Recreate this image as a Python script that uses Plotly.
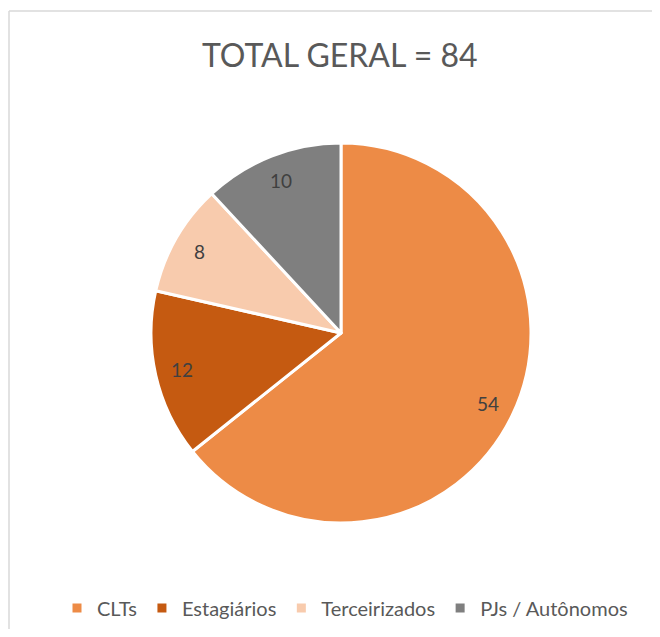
import math
import plotly.graph_objects as go

categories = ["CLTs", "Estagiários", "Terceirizados", "PJs / Autônomos"]
values = [54, 12, 8, 10]
colors = ["#ED8B46", "#C55A11", "#F8CBAD", "#7F7F7F"]
title_text = "TOTAL GERAL = " + str(sum(values))

OFF = 8  # page body margin offset
W, H = 660 - 2 * OFF, 637 - 2 * OFF
cx, cy, R = 341 - OFF, 333 - OFF, 190  # pixel centre / radius of the pie (figure coords)

fig = go.Figure(go.Pie(
    labels=categories,
    values=values,
    marker=dict(colors=colors, line=dict(color="white", width=3)),
    sort=False,
    direction="clockwise",
    rotation=0,
    textinfo="none",
    domain=dict(x=[(cx - R) / W, (cx + R) / W], y=[(H - cy - R) / H, (H - cy + R) / H]),
    showlegend=True,
))

total = sum(values)
cum = 0
annotations = []
for v in values:
    mid = (cum + v / 2) / total * 2 * math.pi
    cum += v
    px = cx + 0.86 * R * math.sin(mid)
    py = cy - 0.86 * R * math.cos(mid)
    annotations.append(dict(
        x=px / W, y=1 - py / H, xref="paper", yref="paper",
        text=str(v), showarrow=False,
        font=dict(family="Lato, 'Open Sans', sans-serif", size=19, color="#404040"),
        xanchor="center", yanchor="middle"))

annotations.append(dict(
    x=(340 - OFF) / W, y=1 - (54 - OFF) / H, xref="paper", yref="paper", text=title_text,
    showarrow=False, xanchor="center", yanchor="middle",
    font=dict(family="Lato, 'Open Sans', sans-serif", size=32, color="#595959")))

border = dict(color="#D9D9D9", width=1.5)
fig.update_layout(
    width=W, height=H,
    margin=dict(l=0, r=0, t=0, b=0),
    paper_bgcolor="white", plot_bgcolor="white",
    annotations=annotations,
    legend=dict(orientation="h", x=(345 - OFF) / W, xanchor="center", y=1 - (608 - OFF) / H,
                yanchor="middle",
                font=dict(family="Lato, 'Open Sans', sans-serif", size=20, color="#595959"),
                itemwidth=30, traceorder="normal"),
    shapes=[
        dict(type="line", xref="paper", yref="paper",
             x0=1 / W, x1=1.0, y0=1 - 3 / H, y1=1 - 3 / H, line=border),
        dict(type="line", xref="paper", yref="paper",
             x0=1 / W, x1=1 / W, y0=1 - 3 / H, y1=0.0, line=border),
    ],
)

fig.write_html("out.html")
